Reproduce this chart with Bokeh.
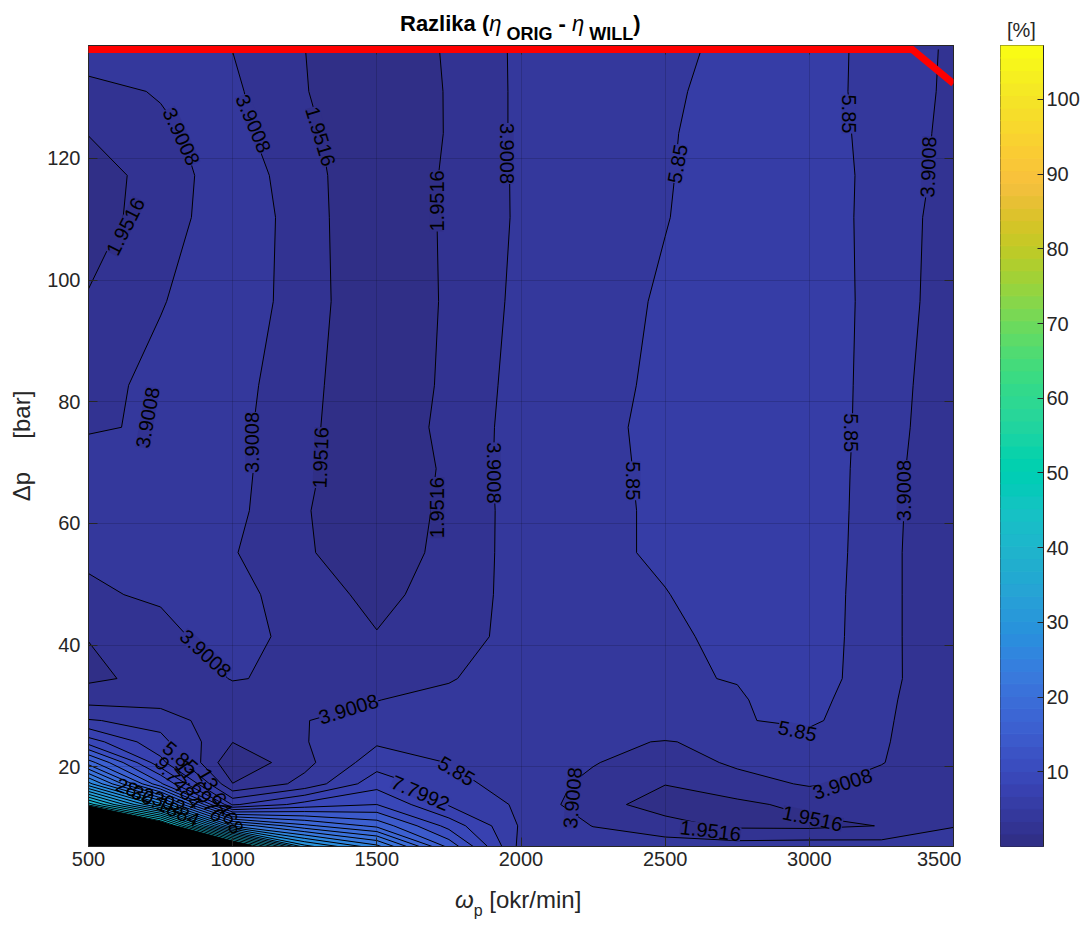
import numpy as np
from bokeh.plotting import figure
from bokeh.layouts import row, column
from bokeh.models import ColumnDataSource, LinearAxis, FixedTicker, PolyAnnotation, Div
from bokeh.core.properties import value
from bokeh.embed import file_html
from bokeh.resources import INLINE

# ---------------- data ----------------
speed = [500, 750, 1000, 1250, 1500, 1750, 2000, 2250, 2500, 2750, 3000, 3250, 3500]
pressure = [6.9, 10.3, 13.8, 17.2, 20.7, 24.1, 27.6, 31.0, 34.5, 41.4, 48.3, 55.2,
            62.1, 69.0, 75.8, 82.7, 96.5, 110.3, 117.2, 124.1, 131.0, 137.9]

# efficiency difference [%] per pressure row (columns follow `speed`)
d_p006 = [107.21, 80, 52, 32, 26, 15, 5.2, 5.0, 5.0, 4.8, 5.0, 4.8, 4.5]
d_p010 = [80, 50, 25, 20, 17, 11, 5.6, 3.85, 2.6, 1.6, 1.5, 2.0, 3.85]
d_p013 = [42, 28, 7.5, 10.5, 11.7, 7.6, 5.5, 2.6, 1.2, 1.5, 2.5, 3.2, 3.2]
d_p017 = [28, 14, 2.0, 4.5, 9.0, 6.6, 4.8, 3.5, 2.0, 3.2, 4.1, 3.5, 3.0]
d_p020 = [18.5, 8.4, 0.3, 3.36, 6.9, 5.8, 4.7, 4.0, 3.0, 4.2, 5.0, 3.95, 3.0]
d_p024 = [10.7, 6.39, 2.0, 3.8, 5.6, 5.2, 4.8, 4.3, 3.8, 4.4, 5.0, 4.0, 3.2]
d_p027 = [6.0, 5.17, 2.15, 3.85, 4.6, 5.0, 5.2, 5.4, 5.5, 5.7, 6.25, 4.25, 2.26]
d_p031 = [3.2, 3.0, 3.1, 2.9, 3.85, 4.6, 5.0, 5.3, 5.5, 5.7, 6.64, 4.2, 2.88]
d_p034 = [1.6, 2.49, 4.0, 3.55, 2.5, 3.7, 5.37, 5.5, 5.7, 5.91, 6.9, 4.6, 2.2]
d_p041 = [2.0, 3.4, 4.73, 3.17, 2.1, 2.8, 4.76, 5.3, 5.6, 6.2, 7.0, 4.64, 2.07]
d_p048 = [3.7, 4.11, 4.3, 3.27, 1.17, 3.16, 4.36, 5.2, 5.8, 6.5, 7.1, 4.62, 2.12]
d_p055 = [4.1, 4.3, 4.05, 2.05, 1.4, 2.23, 4.86, 5.5, 6.08, 6.5, 7.2, 4.66, 2.02]
d_p062 = [4.6, 4.6, 4.45, 2.08, 0.6, 2.4, 4.74, 5.5, 6.08, 6.5, 7.2, 4.75, 2.03]
d_p069 = [4.4, 4.5, 4.5, 2.42, 0.1, 2.35, 4.87, 5.5, 6.14, 6.5, 7.2, 4.82, 2.11]
d_p075 = [3.8, 4.02, 4.5, 2.42, 0.32, 2.58, 4.67, 5.5, 6.22, 6.5, 7.1, 5.0, 2.25]
d_p082 = [3.3, 4.38, 4.6, 2.66, 0.05, 2.43, 4.59, 5.4, 6.15, 6.4, 7.0, 5.11, 2.36]
d_p096 = [2.1, 3.8, 5.0, 3.05, 0.05, 2.27, 4.37, 5.3, 6.02, 6.3, 6.9, 5.25, 2.73]
d_p110 = [1.1, 2.87, 5.28, 2.96, 0.0024, 2.34, 4.18, 5.2, 5.8, 6.5, 6.9, 5.2, 2.93]
d_p117 = [1.2, 2.6, 5.35, 2.5, 0.78, 2.15, 4.23, 5.2, 5.75, 6.5, 6.8, 5.3, 3.18]
d_p124 = [2.0, 3.65, 4.5, 2.45, 0.2, 2.1, 4.3, 5.1, 5.7, 6.5, 6.7, 5.25, 3.32]
d_p131 = [3.5, 4.0, 4.25, 2.05, 0.3, 2.1, 4.3, 5.0, 5.6, 6.4, 6.6, 5.2, 3.49]
d_p137 = [4.6, 4.4, 3.88, 1.97, 0.3, 2.2, 4.3, 4.9, 5.5, 6.2, 6.4, 5.4, 3.5]

# contour labels
lab_text = ["3.9008", "3.9008", "1.9516", "1.9516", "3.9008", "1.9516", "3.9008", "3.9008",
            "1.9516", "1.9516", "3.9008", "5.85", "5.85", "3.9008", "5.85", "5.85", "3.9008",
            "3.9008", "3.9008", "5.85", "5.85", "7.7992", "5.85", "3.9008", "1.9516", "1.9516",
            "3.9008", "28.2392", "30.1884", "9.7484", "11.6976", "13.6468"]
lab_x = [822, 1072, 1305, 1707, 1950, 628, 705, 1068,
         1305, 1710, 1905, 2543, 3136, 3413, 2390, 3146, 3327,
         906, 1402, 819, 1776, 1651, 2959, 3115, 3011, 2657,
         2179, 715, 767, 812, 888, 958]
lab_y = [123.6, 125.7, 123.6, 113.0, 120.8, 108.8, 77.4, 73.3,
         70.8, 62.6, 68.3, 119.1, 127.3, 118.6, 67.0, 74.9, 65.4,
         38.6, 29.5, 21.5, 19.3, 15.7, 25.9, 17.2, 11.5, 9.5,
         14.9, 15.2, 13.6, 17.4, 16.1, 14.4]
lab_angle = [-65, -67, -73, 90, -90, 63, 80, 90,
             88, 90, -90, 80, -90, 88, -90, -90, 90,
             -42, 17, -40, -31, -23, -12, 18, -12, -7,
             85, -20, -25, -50, -55, -60]

# red limit line
limit_x = [490, 3357, 3500]
limit_y = [137.9, 137.9, 132.3]

cbar_ticks = [10, 20, 30, 40, 50, 60, 70, 80, 90, 100]
x_ticks = [500, 1000, 1500, 2000, 2500, 3000, 3500]
y_ticks = [20, 40, 60, 80, 100, 120]

# ---------------- style ----------------
PARULA = [(0.2422,0.1504,0.6603),(0.2504,0.1650,0.7076),(0.2578,0.1818,0.7511),(0.2647,0.1978,0.7952),
(0.2706,0.2147,0.8364),(0.2751,0.2342,0.8710),(0.2783,0.2559,0.8991),(0.2803,0.2782,0.9221),
(0.2813,0.3006,0.9414),(0.2810,0.3228,0.9579),(0.2795,0.3447,0.9717),(0.2760,0.3667,0.9829),
(0.2699,0.3892,0.9906),(0.2602,0.4123,0.9952),(0.2440,0.4358,0.9988),(0.2206,0.4603,0.9973),
(0.1963,0.4847,0.9892),(0.1834,0.5074,0.9798),(0.1786,0.5289,0.9682),(0.1764,0.5499,0.9520),
(0.1687,0.5703,0.9359),(0.1540,0.5902,0.9218),(0.1460,0.6091,0.9079),(0.1380,0.6276,0.8973),
(0.1248,0.6459,0.8883),(0.1113,0.6635,0.8763),(0.0952,0.6798,0.8598),(0.0689,0.6948,0.8394),
(0.0297,0.7082,0.8163),(0.0036,0.7203,0.7917),(0.0067,0.7312,0.7660),(0.0433,0.7411,0.7394),
(0.0964,0.7500,0.7120),(0.1408,0.7584,0.6842),(0.1717,0.7670,0.6554),(0.1938,0.7758,0.6251),
(0.2161,0.7843,0.5923),(0.2470,0.7918,0.5567),(0.2906,0.7973,0.5188),(0.3406,0.8008,0.4789),
(0.3909,0.8029,0.4354),(0.4456,0.8024,0.3909),(0.5044,0.7993,0.3480),(0.5616,0.7942,0.3045),
(0.6174,0.7876,0.2612),(0.6720,0.7793,0.2227),(0.7242,0.7698,0.1910),(0.7738,0.7598,0.1646),
(0.8203,0.7498,0.1535),(0.8634,0.7406,0.1596),(0.9035,0.7330,0.1774),(0.9393,0.7288,0.2100),
(0.9728,0.7298,0.2394),(0.9956,0.7434,0.2371),(0.9970,0.7659,0.2199),(0.9952,0.7893,0.2028),
(0.9892,0.8136,0.1885),(0.9786,0.8386,0.1766),(0.9676,0.8639,0.1643),(0.9610,0.8890,0.1537),
(0.9597,0.9135,0.1423),(0.9628,0.9373,0.1265),(0.9691,0.9606,0.1064),(0.9769,0.9839,0.0805)]


def tone(c):
    r, g, b = [v * 255 for v in c]
    lum = (0.3 * r + 0.59 * g + 0.11 * b) / 255
    w = min(1.0, max(0.0, (lum - 0.23) / 0.6))
    f = ((1 - w) * 0.78 + w, (1 - w) * 1.22 + w, (1 - w) * 0.80 + w)
    rr, gg, bb = [int(min(255, max(0, round(v * k)))) for v, k in zip((r, g, b), f)]
    return "#%02x%02x%02x" % (rr, gg, bb)


PAL = [tone(c) for c in PARULA]
NPAL = len(PAL)

Z = np.array([d_p006, d_p010, d_p013, d_p017, d_p020, d_p024, d_p027, d_p031, d_p034, d_p041,
              d_p048, d_p055, d_p062, d_p069, d_p075, d_p082, d_p096, d_p110, d_p117, d_p124,
              d_p131, d_p137], dtype=float)
zmin, zmax = float(Z.min()), float(Z.max())
levels = np.linspace(zmin, zmax, 56)


def color_of(v):
    i = int(np.floor((v - zmin) / (zmax - zmin) * NPAL))
    return PAL[min(NPAL - 1, max(0, i))]


band_colors = [color_of(l) for l in levels[:-1]]
line_widths = [1.0 if l < 45 else 3.0 for l in levels]
step = levels[1] - levels[0]
lab_bg, lab_alpha = [], []
for t in lab_text:
    k = int(round((float(t) - zmin) / step))
    lab_bg.append(band_colors[max(0, min(len(band_colors) - 1, k - 1))])
    lab_alpha.append(1.0 if k < 5 else 0.0)

FONT = "Liberation Sans"
AX = "#262626"
FRAME_TOP = 45
TITLE_H = 40

p = figure(frame_width=865, frame_height=801, x_range=(500, 3500), y_range=(6.9, 138.55),
           toolbar_location=None, output_backend="svg",
           min_border_left=88, min_border_right=8, min_border_top=FRAME_TOP - TITLE_H,
           min_border_bottom=34)
p.background_fill_color = band_colors[1]
p.border_fill_color = "white"
p.outline_line_color = AX
p.outline_line_width = 1

cr = p.contour(x=speed, y=pressure, z=Z, levels=levels, fill_color=band_colors,
               line_color="black", line_width=line_widths)
cr.level = "image"

src = ColumnDataSource(dict(x=lab_x, y=lab_y, text=lab_text, angle=lab_angle, bg=lab_bg,
                            ba=lab_alpha))
p.text(x="x", y="y", text="text", angle="angle", angle_units="deg", source=src,
       text_font=value(FONT), text_font_size="20px", text_align="center",
       text_baseline="middle", text_color="black",
       background_fill_color="bg", background_fill_alpha="ba")

p.add_layout(PolyAnnotation(xs=limit_x + limit_x[-2:0:-1], ys=limit_y + limit_y[-2:0:-1],
                            fill_alpha=0, line_color="#ff0000", line_alpha=1.0,
                            line_width=7, line_join="miter"))

for ax in (p.xaxis[0], p.yaxis[0]):
    ax.major_tick_in = 9
    ax.major_tick_out = 0
    ax.minor_tick_line_color = None
    ax.axis_line_color = AX
    ax.major_tick_line_color = AX
    ax.major_label_text_font = FONT
    ax.major_label_text_font_size = "20px"
    ax.major_label_text_color = AX
p.xaxis.major_label_standoff = 5
p.yaxis.major_label_standoff = 8
p.xaxis.ticker = FixedTicker(ticks=x_ticks)
p.yaxis.ticker = FixedTicker(ticks=y_ticks)
p.yaxis.axis_label = "Δp\u00a0\u00a0\u00a0\u00a0\u00a0[bar]"
p.yaxis.axis_label_text_font = FONT
p.yaxis.axis_label_text_font_size = "24px"
p.yaxis.axis_label_text_font_style = "normal"
p.yaxis.axis_label_text_color = AX
p.yaxis.axis_label_standoff = 9

for side, tick in (("right", y_ticks), ("above", x_ticks)):
    a = LinearAxis(ticker=FixedTicker(ticks=tick), major_tick_in=9, major_tick_out=0,
                   minor_tick_line_color=None, axis_line_color=AX, major_tick_line_color=AX,
                   major_label_overrides={t: "" for t in tick},
                   major_label_text_font_size="0px", major_label_standoff=0)
    p.add_layout(a, side)

for g in (p.xgrid[0], p.ygrid[0]):
    g.grid_line_color = "black"
    g.grid_line_alpha = 0.15
    g.level = "underlay"
p.xgrid.ticker = FixedTicker(ticks=x_ticks)
p.ygrid.ticker = FixedTicker(ticks=y_ticks)

# ---------------- colour bar ----------------
edges = np.linspace(zmin, zmax, NPAL + 1)
cb = figure(frame_width=43, frame_height=801, x_range=(0, 1), y_range=(zmin, zmax),
            toolbar_location=None, output_backend="svg",
            min_border_left=39, min_border_right=36, min_border_top=FRAME_TOP - TITLE_H,
            min_border_bottom=34)
cb.quad(left=0, right=1, bottom=edges[:-1], top=edges[1:], fill_color=PAL, line_color=PAL,
        line_width=1)
cb.xaxis.visible = False
cb.yaxis.visible = False
cb.xgrid.visible = False
cb.ygrid.visible = False
cb.outline_line_color = AX
cax = LinearAxis(ticker=FixedTicker(ticks=cbar_ticks), major_tick_in=6, major_tick_out=0,
                 minor_tick_line_color=None, axis_line_color=AX, major_tick_line_color=AX,
                 major_label_text_font=FONT, major_label_text_font_size="20px",
                 major_label_text_color=AX, major_label_standoff=3)
cb.add_layout(cax, "right")

# ---------------- title / x label (HTML text) ----------------
title_html = (
    '<div style="position:relative;width:1080px;height:%dpx;font-family:\'Liberation Sans\',Arial,sans-serif;">'
    '<span style="position:absolute;left:400px;top:13px;font-size:22px;line-height:22px;'
    'font-weight:bold;white-space:nowrap;color:#000;">Razlika (<i style="font-weight:normal;">η</i>'
    '<span style="position:relative;top:9px;font-size:18px;">&nbsp;ORIG</span> - '
    '<i style="font-weight:normal;">η</i><span style="position:relative;top:9px;font-size:18px;">&nbsp;WILL</span>)</span>'
    '<span style="position:absolute;left:1007px;top:20px;font-size:20px;line-height:20px;'
    'white-space:nowrap;color:#262626;">[%%]</span>'
    '</div>' % TITLE_H)
title_div = Div(text=title_html, width=1080, height=TITLE_H, margin=(0, 0, 0, 0))

xlab_html = (
    '<div style="position:relative;width:1080px;height:40px;font-family:\'Liberation Sans\',Arial,sans-serif;">'
    '<span style="position:absolute;left:455px;top:8px;font-size:24px;line-height:24px;'
    'white-space:nowrap;color:#262626;"><i>ω</i><span style="position:relative;top:8px;font-size:16px;">p</span>'
    '&nbsp;[okr/min]</span></div>')
xlab_div = Div(text=xlab_html, width=1080, height=40, margin=(0, 0, 0, 0))

layout = column(title_div, row(p, cb), xlab_div)
open("out.html", "w").write(file_html(layout, INLINE))
